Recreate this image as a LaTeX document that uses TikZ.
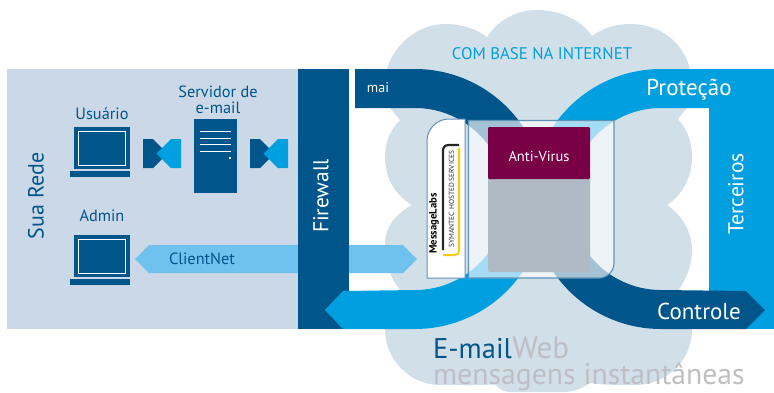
\documentclass[tikz,border=0pt]{standalone}
\usepackage{fontspec}
\setmainfont{PT Sans}
\usetikzlibrary{calc}
\definecolor{cloudc}{HTML}{D1DFE9}
\definecolor{panelc}{HTML}{CBD8E8}
\definecolor{darkb}{HTML}{00568A}
\definecolor{lightb}{HTML}{009FDF}
\definecolor{skyb}{HTML}{6FC2EE}
\definecolor{purp}{HTML}{7A0046}
\definecolor{grayr}{HTML}{B0BAC5}
\definecolor{edgeb}{HTML}{5E93B8}
\definecolor{txtg}{HTML}{BDBFC3}
\definecolor{ylw}{HTML}{FFC80A}
\newcommand{\fsz}[1]{\fontsize{#1}{#1}\selectfont}
\newcommand{\mylaptop}[2]{%
  \fill[darkb] (#1,#2) rectangle ++(55.5,42);
  \fill[darkb] (#1-4,#2+44) rectangle ++(59.5,6);
  \draw[white,line width=1pt] (#1+4,#2+4) rectangle ++(47,34);
}
\newcommand{\mytie}[2]{%
  \fill[darkb] (#1,#2) -- ++(10,0) -- ++(14.5,14.5) -- ++(-14.5,14.5) -- ++(-10,0) -- cycle;
  \fill[lightb] (#1+38,#2) -- ++(-10,0) -- ++(-14.5,14.5) -- ++(14.5,14.5) -- ++(10,0) -- cycle;
}
\tikzset{
  lbl/.style={text=darkb,inner sep=0pt,font=\fsz{16.3}},
  wlbl/.style={text=white,inner sep=0pt},
}
\begin{document}
\begin{tikzpicture}[x=1pt,y=1pt,yscale=-1]
\useasboundingbox (0,0) rectangle (774,392);
% cloud
\fill[cloudc] (387,69) .. controls (395,42) and (420,24) .. (445,24)
  .. controls (460,24) and (475,28) .. (487,37)
  .. controls (498,20) and (517,10) .. (537,10)
  .. controls (560,10) and (581,20) .. (592,36)
  .. controls (603,28) and (616,24) .. (630,24)
  .. controls (660,24) and (683,42) .. (690,69)
  -- (687,108) -- (678,119)
  .. controls (688,130) and (692,143) .. (692,157)
  .. controls (692,178) and (682,195) .. (667,205)
  .. controls (682,215) and (692,232) .. (692,250)
  .. controls (692,264) and (687,278) .. (678,291)
  -- (692,329)
  .. controls (692,362) and (665,385) .. (635,385)
  .. controls (618,385) and (603,385) .. (590,383)
  .. controls (580,390) and (570,392) .. (565,392)
  -- (510,392) .. controls (505,392) and (500,390) .. (495,384)
  .. controls (480,386) and (460,385) .. (440,385)
  .. controls (410,385) and (385,360) .. (385,329)
  -- (400,290)
  .. controls (390,278) and (385,262) .. (385,243)
  .. controls (385,228) and (395,214) .. (412,205)
  .. controls (395,195) and (385,178) .. (385,157)
  .. controls (385,143) and (390,130) .. (400,120)
  -- (390,108) -- cycle;
% left panel
\fill[panelc] (7,69) rectangle (298,329);
% ClientNet arrow
\fill[skyb] (135,259) -- (149,245) -- (403,245) -- (417,259) -- (403,273) -- (149,273) -- cycle;
% firewall, terceiros
\fill[darkb] (298,69) rectangle (349,329);
\fill[lightb] (709,69) rectangle (774,329);
% light band
\fill[lightb] (709,69) -- (661,69) arc[start angle=-90,end angle=-153.9,radius=130pt]
  -- ($(415,199)+(26.1:91)$) arc[start angle=26.1,end angle=90,radius=91pt]
  -- (343,291) -- (325,310) -- (343,329) -- (415,329)
  arc[start angle=90,end angle=26.1,radius=130pt]
  -- ($(661,199)+(-153.9:91)$) arc[start angle=-153.9,end angle=-90,radius=91pt]
  -- (709,108) -- cycle;
% dark band
\fill[darkb] (355,69) -- (415,69) arc[start angle=-90,end angle=-26.1,radius=130pt]
  -- ($(661,199)+(153.9:91)$) arc[start angle=153.9,end angle=90,radius=91pt]
  -- (746,291) -- (765,310) -- (746,329) -- (661,329)
  arc[start angle=90,end angle=153.9,radius=130pt]
  -- ($(415,199)+(-26.1:91)$) arc[start angle=-26.1,end angle=-90,radius=91pt]
  -- (355,108) -- cycle;
% glass box
\path[fill=white,fill opacity=.64,draw=edgeb,line width=1.1pt]
  (468.5,120.5) -- (614,120.5) -- (614,263) arc[start angle=0,end angle=90,radius=15pt]
  -- (468.5,278) -- cycle;
% gray and purple
\fill[grayr,rounded corners=2pt] (488,170) rectangle (590,272);
\fill[purp,rounded corners=1.2pt] (488,127) rectangle (590,179);
% logo panel
\draw[fill=white,draw=edgeb,line width=1pt] (427,278) -- (427,141) arc[start angle=180,end angle=270,radius=22pt]
  -- (465,119) -- (465,278) -- cycle;
\draw[ylw,line width=2pt] (459,148) -- (459,250) .. controls (459,254) and (457,255) .. (454,255) -- (443,255);
\draw[black!85,line width=2.2pt] (459,145) -- (449,145) .. controls (445,145) and (443,147) .. (443,151) -- (443,250);
\node[rotate=90,inner sep=0pt,text=black] (ml) at (434,223.5) {\fsz{10.6}\bfseries MessageLabs};
\node[rotate=90,inner sep=0pt,text=black!80] (sym) at (451.5,199) {\fsz{7.4}SYMANTEC HOSTED SERVICES};
% icons
\mylaptop{74}{127}
\mylaptop{74}{235}
\mytie{143}{139}
\mytie{250}{139}
\fill[darkb] (194,119) rectangle (237,193);
\foreach \yy in {131.5,138,144.5,151}{\draw[white,line width=1pt] (200,\yy) -- (231,\yy);}
\fill[white] (229,156.5) rectangle (231,159);
% labels
\node[lbl] (usu) at (102,114) {Usuário};
\node[lbl] (srv1) at (218,92) {Servidor de};
\node[lbl] (srv2) at (218,108) {e-mail};
\node[lbl] (adm) at (102,216) {Admin};
\node[lbl] (cn) at (202,259) {ClientNet};
\node[text=darkb,inner sep=0pt,rotate=90,font=\fsz{22}] (sua) at (36,196) {Sua Rede};
\node[wlbl,rotate=90,font=\fsz{21.5}] (fw) at (321,196) {Firewall};
\node[wlbl,rotate=90,font=\fsz{21.5}] (ter) at (736,194) {Terceiros};
\node[text=lightb,inner sep=0pt,font=\fsz{16.8}] (com) at (542,54) {COM BASE NA INTERNET};
\node[wlbl,font=\fsz{14}] (mai) at (378,88) {mai};
\node[wlbl,font=\fsz{23}] (pro) at (689,90) {Proteção};
\node[wlbl,font=\fsz{23}] (con) at (699,311) {Controle};
\node[wlbl,font=\fsz{14.5}] (av) at (539,156) {Anti-Virus};
\node[text=darkb,inner sep=0pt,anchor=base west,font=\fsz{28.5}] (em) at (433,358) {E-mail};
\node[text=txtg,inner sep=0pt,anchor=base west,font=\fsz{31}] (web) at (em.base east) {Web};
\node[text=txtg,inner sep=0pt,anchor=base west,font=\fsz{29.7}] (ins) at (433,384) {mensagens instantâneas};
\end{tikzpicture}
\end{document}
